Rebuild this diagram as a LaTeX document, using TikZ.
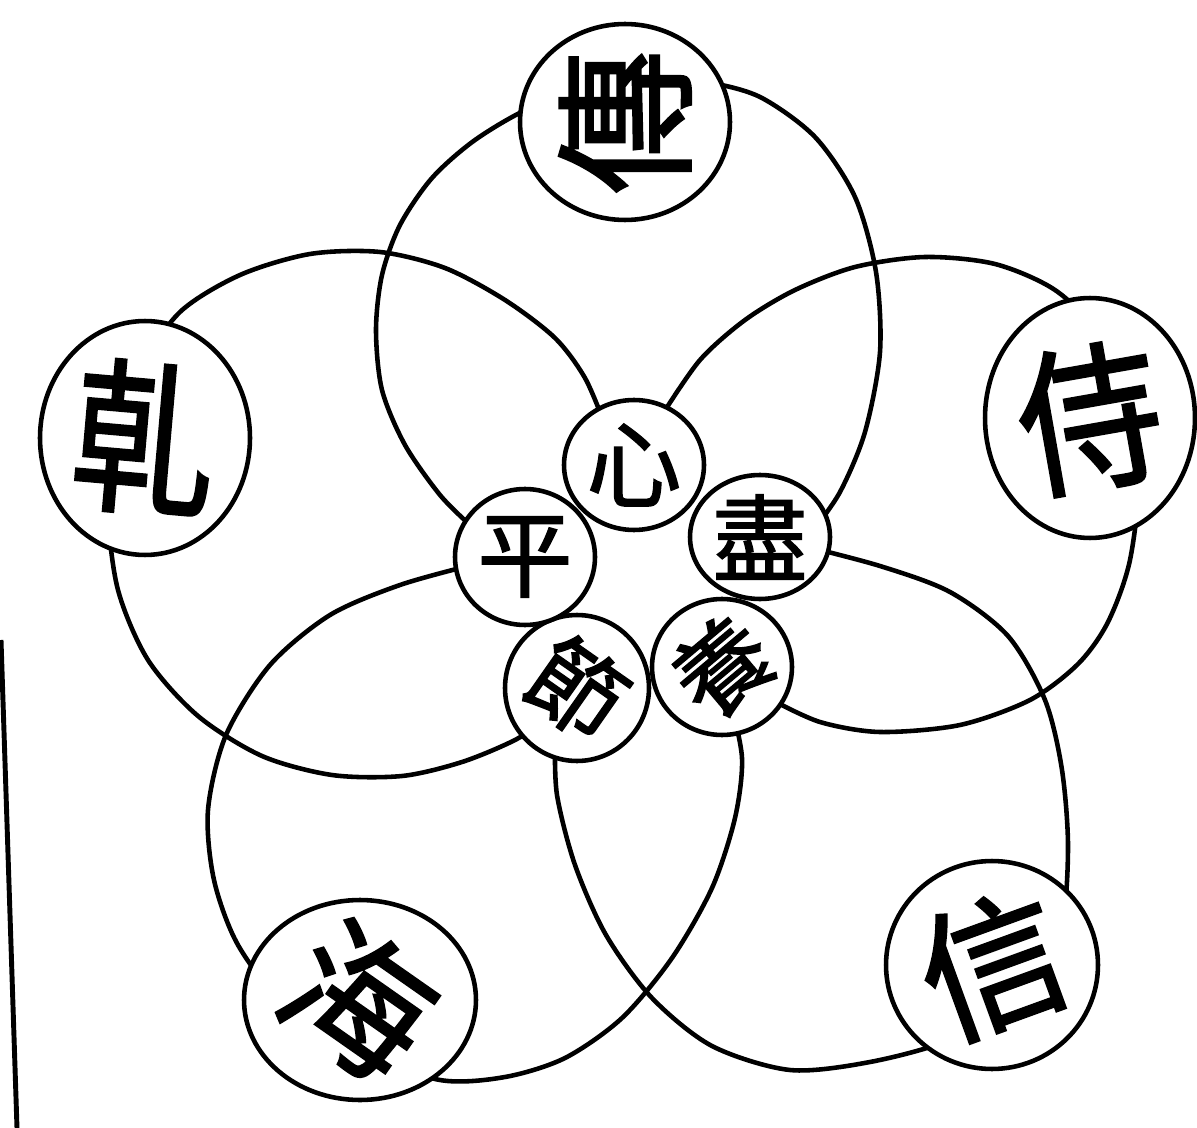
\documentclass[tikz,border=0pt]{standalone}
\usepackage{fontspec}
\newfontfamily\cjk[FakeBold=1.6]{Noto Sans CJK TC}
\usetikzlibrary{shapes.geometric}
\tikzset{
  petal/.style={line width=2.6pt, line cap=round},
  ring/.style={ellipse, draw, line width=2.6pt, fill=white, inner sep=0pt, outer sep=0pt},
  bigchar/.style={inner sep=0pt, font=\cjk\fontsize{82pt}{82pt}\selectfont},
  smallchar/.style={inner sep=0pt, font=\cjk\fontsize{54pt}{54pt}\selectfont},
}
\begin{document}
\begin{tikzpicture}[x=0.02cm,y=-0.02cm]
\fill[white] (0,0) rectangle (1197,1128);
\useasboundingbox (0,0) rectangle (1197,1128);

% big petals
\draw[petal] plot[smooth] coordinates {(470,525) (440,495) (405,445) (382,390) (376,330) (382,275) (400,225) (432,178) (475,140) (530,108) (590,90) (650,80) (705,82) (760,97) (815,137) (855,197) (876,272) (880,352) (865,432) (840,492) (812,532)};
\draw[petal] plot[smooth] coordinates {(605,425) (585,378) (555,338) (505,300) (445,268) (380,252) (310,254) (240,275) (180,312) (140,370) (115,440) (108,510) (118,590) (148,660) (198,716) (262,756) (332,775) (402,776) (462,762) (515,740) (548,718)};
\draw[petal] plot[smooth] coordinates {(662,415) (700,360) (745,320) (795,290) (855,267) (925,257) (995,264) (1055,290) (1100,335) (1130,400) (1140,470) (1130,560) (1108,622) (1078,664) (1030,700) (960,725) (880,732) (820,722) (772,700)};
\draw[petal] plot[smooth] coordinates {(800,545) (880,566) (950,592) (1008,636) (1045,700) (1062,770) (1068,850) (1060,930) (1020,1000) (950,1040) (870,1062) (790,1070) (712,1046) (652,998) (606,935) (575,865) (557,795) (555,740)};
\draw[petal] plot[smooth] coordinates {(472,565) (400,585) (330,615) (270,665) (226,735) (208,810) (214,880) (238,945) (285,1005) (360,1052) (440,1080) (505,1077) (565,1058) (622,1018) (672,958) (712,888) (735,818) (742,758) (730,700)};

% outer rings
\node[ring, minimum width=4.2cm, minimum height=3.92cm] (tp) at (625,122) {};
\node[ring, minimum width=4.2cm, minimum height=4.68cm] (lf) at (145,438) {};
\node[ring, minimum width=4.2cm, minimum height=4.8cm] (rt) at (1090,418) {};
\node[ring, minimum width=4.64cm, minimum height=4.0cm] (ll) at (360,1000) {};
\node[ring, minimum width=4.24cm, minimum height=4.16cm] (lr) at (992,965) {};

% inner rings
\node[ring, minimum width=2.8cm, minimum height=2.6cm] (xin) at (634,465) {};
\node[ring, minimum width=2.8cm, minimum height=2.48cm] (jin) at (760,537) {};
\node[ring, minimum width=2.8cm, minimum height=2.72cm] (yang) at (722,667) {};
\node[ring, minimum width=2.88cm, minimum height=2.92cm] (jie) at (577,688) {};
\node[ring, minimum width=2.8cm, minimum height=2.72cm] (ping) at (525,557) {};

% characters
\node[bigchar, rotate=90] (tpt) at (tp) {傳};
\node[bigchar, rotate=-5, yscale=1.15] (lft) at (lf) {乹};
\node[bigchar, rotate=10, yscale=1.1] (rtt) at (rt) {侍};
\node[bigchar, rotate=-35] (llt) at (ll) {海};
\node[bigchar, rotate=20] (lrt) at (lr) {信};
\node[smallchar] (xint) at (xin) {心};
\node[smallchar] (jint) at (jin) {盡};
\node[smallchar, rotate=40] (yangt) at (yang) {養};
\node[smallchar, rotate=-35] (jiet) at (jie) {節};
\node[smallchar] (pingt) at (ping) {平};

% margin line
\coordinate (m1) at (1,640);
\coordinate (m2) at (17,1128);
\draw[line width=2.8pt] (m1) -- (m2);
\end{tikzpicture}
\end{document}
